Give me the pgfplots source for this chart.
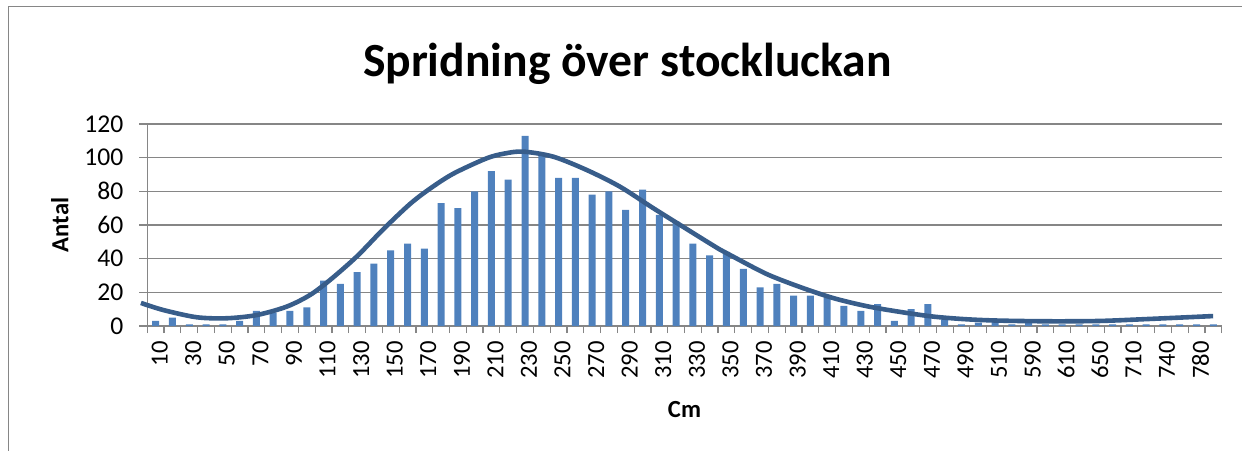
\documentclass[border=0pt]{standalone}
\usepackage{pgfplots}
\usepackage{pgfplotstable}
\pgfplotsset{compat=1.18}
\usepackage{fontspec}
\setmainfont{Carlito}
\definecolor{barblue}{HTML}{4F81BD}
\definecolor{curveblue}{HTML}{385D8A}
\definecolor{gridgray}{HTML}{868686}

\pgfplotstableread{
idx cm n
0 10 3
1 20 5
2 30 1
3 40 1
4 50 1
5 60 3
6 70 9
7 80 8
8 90 9
9 100 11
10 110 27
11 120 25
12 130 32
13 140 37
14 150 45
15 160 49
16 170 46
17 180 73
18 190 70
19 200 80
20 210 92
21 220 87
22 230 113
23 240 101
24 250 88
25 260 88
26 270 78
27 280 80
28 290 69
29 300 81
30 310 66
31 320 62
32 330 49
33 340 42
34 350 44
35 360 34
36 370 23
37 380 25
38 390 18
39 400 18
40 410 17
41 420 12
42 430 9
43 440 13
44 450 3
45 460 10
46 470 13
47 480 4
48 490 1
49 500 2
50 510 4
51 520 1
52 590 2
53 600 1
54 610 1
55 640 1
56 650 1
57 700 1
58 710 1
59 730 1
60 740 1
61 760 1
62 780 1
63 800 1
}\bardata

\pgfplotstableread{
x y
-0.88 13.7
0.45 9.5
2.44 5.2
4.23 4.6
6.02 6.5
7.80 11.5
9.19 18.4
10.38 27.3
11.97 41.2
13.56 57.5
15.15 72.5
16.34 81.6
17.73 90.5
19.71 99.6
20.80 102.5
21.89 103.6
23.68 100.6
25.67 92.7
27.65 82.8
29.64 70.0
31.63 57.6
33.61 45.4
34.40 41.2
36.39 30.9
38.37 23.2
40.36 16.6
42.35 11.8
44.33 8.4
46.31 5.6
48.30 4.0
50.28 3.2
53.26 2.8
56.24 3.0
59.22 4.2
62.99 5.9
}\curvedata

\begin{document}
\begin{tikzpicture}
\path[use as bounding box] (0,0) rectangle (621pt,-225pt);
\draw[gridgray, line width=0.5pt] (4pt,-230pt) -- (4pt,-3pt) -- (630pt,-3pt);
\node[anchor=base, font=\fontsize{23.8}{28}\selectfont\bfseries] at (313.7pt,-38pt) {Spridning över stockluckan};
\begin{axis}[
  at={(73.65pt,-163pt)}, anchor=south west,
  scale only axis, width=537.2pt, height=101pt,
  xmin=-0.5, xmax=63.5, ymin=0, ymax=120,
  clip=false,
  axis lines*=left,
  axis line style={gridgray, line width=0.6pt},
  ytick={0,20,...,120},
  ymajorgrids, grid style={gridgray, line width=0.8pt},
  xtick={0,2,...,62},
  xticklabels={10,30,50,70,90,110,130,150,170,190,210,230,250,270,290,310,330,350,370,390,410,430,450,470,490,510,590,610,650,710,740,780},
  minor xtick={-0.5,0.5,...,63.5},
  tick align=outside,
  major tick length=4pt,
  minor tick length=3.5pt,
  x tick style={draw=none},
  minor x tick style={draw=gridgray, line width=0.6pt},
  y tick style={gridgray, line width=0.6pt},
  tick label style={font=\fontsize{12.3}{14}\selectfont},
  yticklabel style={font=\fontsize{12.8}{14}\selectfont, xshift=-4.5pt},
  /pgf/number format/assume math mode=true,
  xticklabel style={rotate=90, anchor=east, yshift=-2pt},
  xlabel={\textbf{Cm}},
  ylabel={\textbf{Antal}},
  label style={font=\fontsize{12.3}{14}\selectfont},
  xlabel style={at={(axis description cs:0.5,-0.415)}, anchor=center},
  ylabel style={at={(axis description cs:-0.0814,0.5)}, anchor=center, rotate=0},
]
\addplot[ybar, bar width=3.5pt, fill=barblue, draw=none] table[x=idx, y=n] {\bardata};
\addplot[smooth, curveblue, line width=2.3pt] table[x=x, y=y] {\curvedata};
\end{axis}
\end{tikzpicture}
\end{document}
